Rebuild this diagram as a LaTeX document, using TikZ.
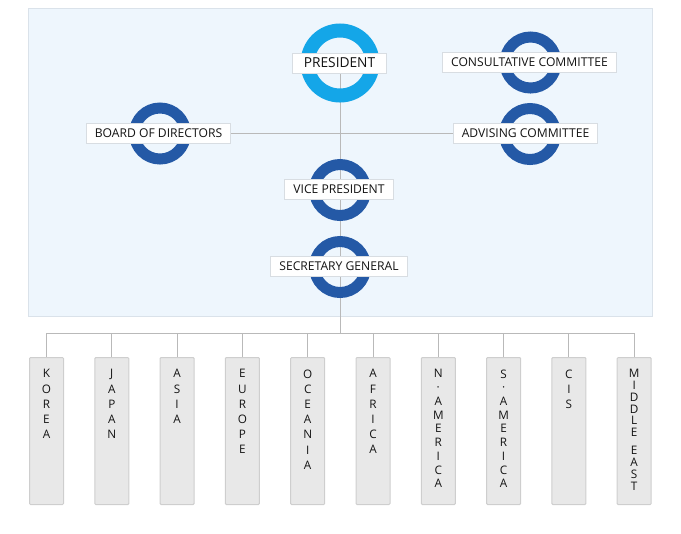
\documentclass[tikz,border=0pt]{standalone}
\usepackage{fontspec}
\setmainfont{Open Sans}
\usetikzlibrary{backgrounds}
\definecolor{panelfill}{RGB}{238,246,253}
\definecolor{paneldraw}{RGB}{218,226,234}
\definecolor{ringdark}{RGB}{36,89,166}
\definecolor{ringlight}{RGB}{20,166,232}
\definecolor{linegray}{RGB}{185,185,185}
\definecolor{boxfill}{RGB}{232,232,232}
\definecolor{boxdraw}{RGB}{206,206,206}
\definecolor{labeldraw}{RGB}{216,221,226}
\definecolor{labeltext}{RGB}{20,20,20}
\tikzset{every picture/.style={line width=0.75pt}}
\tikzset{
	ring/.style={circle, draw=ringdark, line width=8.25pt, minimum size=38.25pt, inner sep=0pt},
	bigring/.style={circle, draw=ringlight, line width=10.5pt, minimum size=48.75pt, inner sep=0pt},
	title/.style={draw=labeldraw, fill=white, inner xsep=6.5pt, inner ysep=0pt, minimum height=15pt, text=labeltext, font=\fontsize{9.1}{10}\selectfont},
	region/.style={draw=boxdraw, fill=boxfill, minimum width=25.5pt, minimum height=110.25pt, inner sep=0pt, rounded corners=0.75pt},
	conn/.style={draw=linegray, line width=0.75pt}
}

\begin{document}
\begin{tikzpicture}[x=0.75pt,y=0.75pt,yscale=-1,xscale=1]
		\useasboundingbox (0,0) rectangle (681,533);
		
		%Rings and titles
		\node[bigring] (pres-ring) at (340,63) {};
		\node[title, inner xsep=8.5pt, font=\fontsize{10.3}{12}\selectfont] (pres) at (339.5,63) {PRESIDENT};
		
		\node[ring] (cons-ring) at (530.5,62.5) {};
		\node[title] (cons) at (529.5,62.5) {CONSULTATIVE COMMITTEE};
		
		\node[ring] (adv-ring) at (530,134) {};
		\node[title] (adv) at (525.5,133.5) {ADVISING COMMITTEE};
		
		\node[ring] (board-ring) at (160,133.5) {};
		\node[title] (board) at (158.5,133.5) {BOARD OF DIRECTORS};
		
		\node[ring] (vp-ring) at (340,190) {};
		\node[title] (vp) at (339,189.3) {VICE PRESIDENT};
		
		\node[ring] (sg-ring) at (340,267) {};
		\node[title] (sg) at (339,266.5) {SECRETARY GENERAL};
		
		\coordinate (hub) at (340,333);
		
		%Panel and lines behind the rings
		\begin{scope}[on background layer]
			\draw[draw=paneldraw, fill=panelfill] (28,8) rectangle (652,316);
			\draw[conn] (pres-ring.center) -- (hub);
			\draw[conn] (board.east) -- (adv.west);
		\end{scope}
		
		%Regions
		\foreach \name/\txt/\sp [count=\i from 0] in {
			korea/{K\\O\\R\\E\\A}/11.4,
			japan/{J\\A\\P\\A\\N}/11.4,
			asia/{A\\S\\I\\A}/11.4,
			europe/{E\\U\\R\\O\\P\\E}/11.4,
			oceania/{O\\C\\E\\A\\N\\I\\A}/11.4,
			africa/{A\\F\\R\\I\\C\\A}/11.4,
			namerica/{N\\·\\A\\M\\E\\R\\I\\C\\A}/10.3,
			samerica/{S\\·\\A\\M\\E\\R\\I\\C\\A}/10.3,
			cis/{C\\I\\S}/11.4,
			mideast/{M\\I\\D\\D\\L\\E\\[5pt]E\\A\\S\\T}/8.8}
		{
			\node[region, anchor=north] (\name) at (46.5+65.3*\i,357) {};
			\node[anchor=north, align=center, inner sep=0pt, text=labeltext, font=\fontsize{8.8}{\sp}\selectfont] (\name-text) at (46.5+65.3*\i,369) {\txt};
			\draw[conn] (hub) -| (\name.north);
		}
		
		\end{tikzpicture}
\end{document}
